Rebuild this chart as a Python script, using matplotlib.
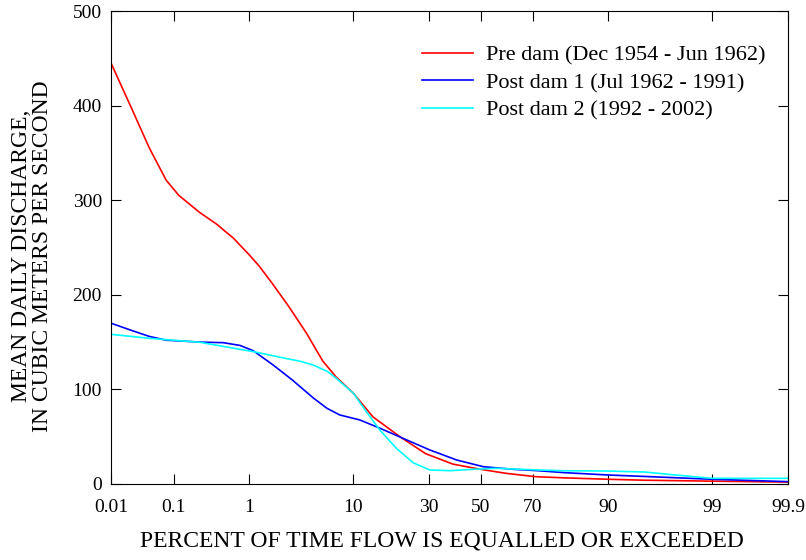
import math
import numpy as np
import matplotlib
matplotlib.use("Agg")
import matplotlib.pyplot as plt

# ---------------- data ----------------
pre_pct = [0.01, 0.023, 0.043, 0.078, 0.12, 0.235, 0.39, 0.64, 1.0, 1.3, 1.8, 2.7, 4.0, 5.6,
           7.3, 10, 13.9, 20.8, 29, 39, 50, 60, 71, 80, 90, 95, 99, 99.9]
pre_q = [445, 395, 355, 321, 305, 287, 275, 260, 242, 230, 212, 187, 159, 130,
         113, 96, 71, 50, 32, 21, 15.5, 11.3, 7.7, 6.5, 5, 4, 3, 2]

post1_pct = [0.01, 0.023, 0.043, 0.078, 0.14, 0.235, 0.48, 0.77, 1.1, 1.8, 2.9, 4.6, 6.1, 7.8,
             11.2, 15.5, 21.7, 30.4, 40.4, 51, 63, 72, 80, 90, 95, 99, 99.9]
post1_q = [170, 162, 156, 152, 151, 150, 149.4, 146.5, 141, 126.5, 110, 91, 80, 73,
           67.7, 59, 48.3, 36, 25.4, 18.3, 15.5, 14, 12, 9.5, 8, 5, 2.5]

post2_pct = [0.01, 0.043, 0.235, 0.77, 1.1, 2.7, 3.4, 4.6, 6.2, 7.3, 10, 12.5, 15.5, 19.8,
             24.8, 30.4, 37.8, 46.9, 56, 72, 80, 90, 95, 97.5, 99, 99.9]
post2_q = [158.2, 154, 149.8, 142.4, 140, 132, 130, 125.8, 118.7, 111.7, 96, 76.4, 57.1, 37.7,
           22.5, 14.8, 14.1, 15.5, 16.6, 14.8, 14, 13.7, 12.7, 9.5, 6, 6]

series_labels = ["Pre dam (Dec 1954 - Jun 1962)",
                 "Post dam 1 (Jul 1962 - 1991)",
                 "Post dam 2 (1992 - 2002)"]
series_colors = ["#ff0000", "#0000ff", "#00ffff"]

x_ticks = [0.01, 0.1, 1, 10, 30, 50, 70, 90, 99, 99.9]
x_ticklabels = ["0.01", "0.1", "1", "10", "30", "50", "70", "90", "99", "99.9"]
y_ticks = [0, 100, 200, 300, 400, 500]

# ---------------- normal probability scale ----------------
_a = [-3.969683028665376e+01, 2.209460984245205e+02, -2.759285104469687e+02,
      1.383577518672690e+02, -3.066479806614716e+01, 2.506628277459239e+00]
_b = [-5.447609879822406e+01, 1.615858368580409e+02, -1.556989798598866e+02,
      6.680131188771972e+01, -1.328068155288572e+01]
_c = [-7.784894002430293e-03, -3.223964580411365e-01, -2.400758277161838e+00,
      -2.549732539343734e+00, 4.374664141464968e+00, 2.938163982698783e+00]
_d = [7.784695709041462e-03, 3.224671290700398e-01, 2.445134137142996e+00,
      3.754408661907416e+00]


def _ppf(p):
    p = np.clip(np.asarray(p, dtype=float), 1e-12, 1 - 1e-12)
    out = np.empty_like(p)
    plow = 0.02425
    lo = p < plow
    hi = p > 1 - plow
    mid = ~(lo | hi)
    q = np.sqrt(-2 * np.log(p[lo]))
    out[lo] = (((((_c[0]*q+_c[1])*q+_c[2])*q+_c[3])*q+_c[4])*q+_c[5]) / \
              ((((_d[0]*q+_d[1])*q+_d[2])*q+_d[3])*q+1)
    q = np.sqrt(-2 * np.log(1 - p[hi]))
    out[hi] = -(((((_c[0]*q+_c[1])*q+_c[2])*q+_c[3])*q+_c[4])*q+_c[5]) / \
               ((((_d[0]*q+_d[1])*q+_d[2])*q+_d[3])*q+1)
    q = p[mid] - 0.5
    r = q * q
    out[mid] = (((((_a[0]*r+_a[1])*r+_a[2])*r+_a[3])*r+_a[4])*r+_a[5])*q / \
               (((((_b[0]*r+_b[1])*r+_b[2])*r+_b[3])*r+_b[4])*r+1)
    return out


_erf = np.vectorize(math.erf)


def forward(pct):
    return _ppf(np.asarray(pct, dtype=float) / 100.0)


def inverse(z):
    z = np.asarray(z, dtype=float)
    return 50.0 * (1.0 + _erf(z / math.sqrt(2.0)))


# ---------------- figure ----------------
plt.rcParams['font.family'] = ['Liberation Serif', 'DejaVu Serif']
plt.rcParams['font.size'] = 14

fig = plt.figure(figsize=(8.06, 5.60), dpi=100)
ax = fig.add_axes([111/806, 1 - 484/560, 677/806, 473/560])

for pct, q, lab, col in zip([pre_pct, post1_pct, post2_pct],
                            [pre_q, post1_q, post2_q],
                            series_labels, series_colors):
    ax.plot(pct, q, color=col, lw=1.2, label=lab, solid_joinstyle='round')

ax.set_xscale('function', functions=(forward, inverse))
ax.set_xlim(0.01, 99.9)
ax.set_ylim(0, 500)
ax.set_xticks(x_ticks)
ax.set_xticklabels(x_ticklabels)
ax.minorticks_off()
ax.set_yticks(y_ticks)
ax.tick_params(direction='in', length=7, width=0.8, top=True, right=True,
               labelsize=14)
ax.tick_params(axis='x', pad=11)
ax.tick_params(axis='y', pad=6.5)
for s in ax.spines.values():
    s.set_linewidth(0.8)

fig.text(442/806, 1 - 541/560, "PERCENT OF TIME FLOW IS EQUALLED OR EXCEEDED",
         fontsize=17, ha='center', va='center')
fig.text(21.5/806, 1 - 256/560, "MEAN DAILY DISCHARGE,", fontsize=17,
         rotation=90, ha='center', va='center')
fig.text(43/806, 1 - 256/560, "IN CUBIC METERS PER SECOND", fontsize=17,
         rotation=90, ha='center', va='center')

ax.legend(loc='upper left', bbox_to_anchor=(0.459, 0.928), frameon=False,
          fontsize=16, handlelength=2.3, handletextpad=0.59, labelspacing=0.31,
          borderpad=0, borderaxespad=0)

fig.savefig("out.png", dpi=100)
